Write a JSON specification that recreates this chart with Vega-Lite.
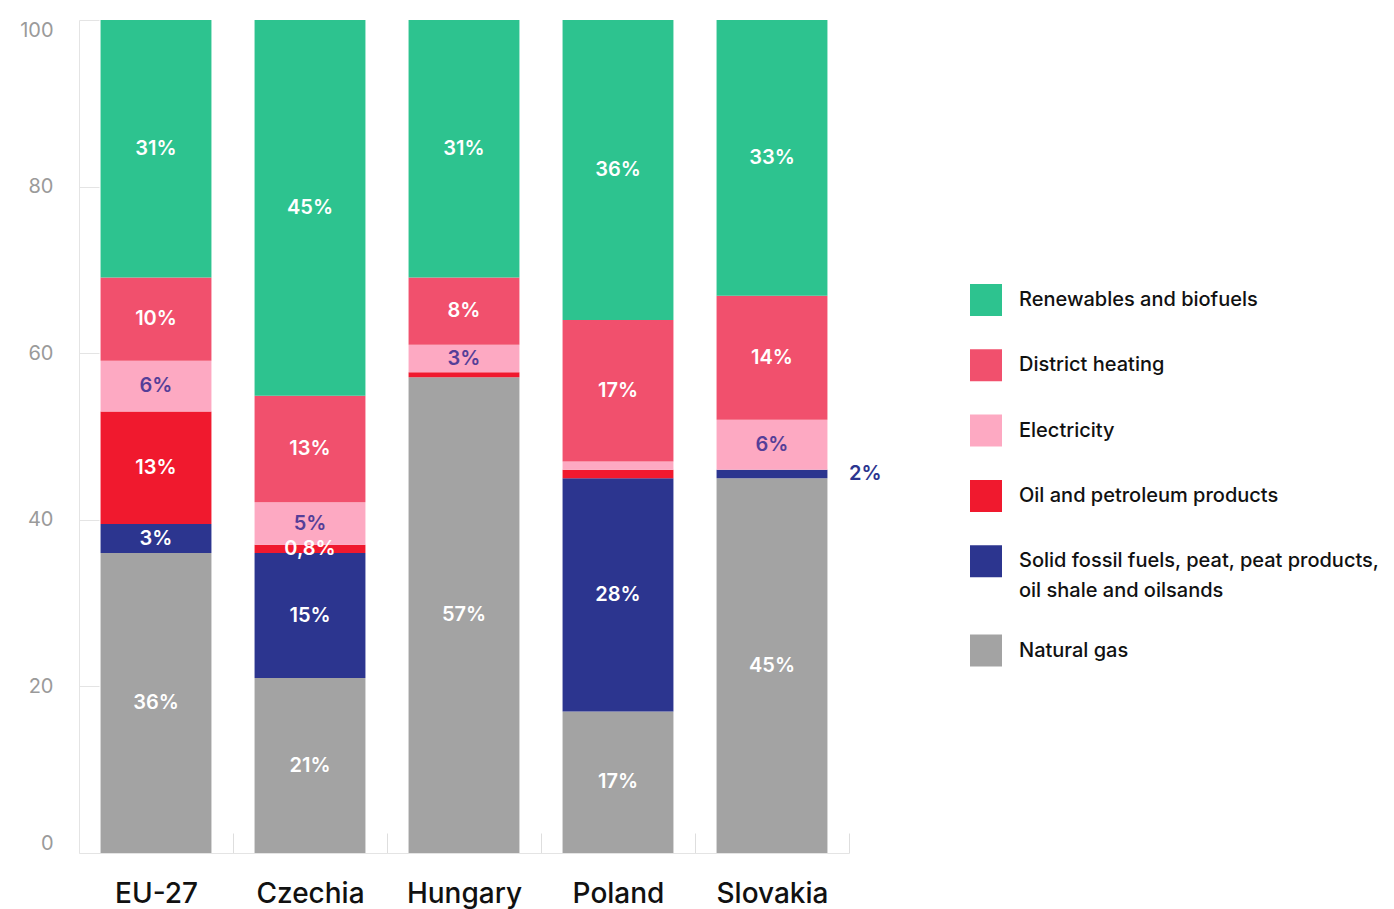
{
  "$schema": "https://vega.github.io/schema/vega-lite/v6.json",
  "width": 770,
  "height": 833,
  "autosize": {"type": "none"},
  "padding": {"left": 79, "top": 20, "right": 545, "bottom": 56},
  "background": "white",
  "config": {
    "view": {"stroke": null},
    "style": {"guide-label": {"lineHeight": 30}}
  },
  "data": {
    "values": [
      {"country": "EU-27", "category": "Natural gas", "value": 36.0, "label": "36%"},
      {"country": "EU-27", "category": "Solid fossil fuels, peat, peat products, oil shale and oilsands", "value": 3.5, "label": "3%"},
      {"country": "EU-27", "category": "Oil and petroleum products", "value": 13.5, "label": "13%"},
      {"country": "EU-27", "category": "Electricity", "value": 6.1, "label": "6%"},
      {"country": "EU-27", "category": "District heating", "value": 10.0, "label": "10%"},
      {"country": "EU-27", "category": "Renewables and biofuels", "value": 30.9, "label": "31%"},
      {"country": "Czechia", "category": "Natural gas", "value": 21.0, "label": "21%"},
      {"country": "Czechia", "category": "Solid fossil fuels, peat, peat products, oil shale and oilsands", "value": 15.0, "label": "15%"},
      {"country": "Czechia", "category": "Oil and petroleum products", "value": 1.0, "label": "0,8%"},
      {"country": "Czechia", "category": "Electricity", "value": 5.1, "label": "5%"},
      {"country": "Czechia", "category": "District heating", "value": 12.8, "label": "13%"},
      {"country": "Czechia", "category": "Renewables and biofuels", "value": 45.1, "label": "45%"},
      {"country": "Hungary", "category": "Natural gas", "value": 57.1, "label": "57%"},
      {"country": "Hungary", "category": "Oil and petroleum products", "value": 0.6, "label": ""},
      {"country": "Hungary", "category": "Electricity", "value": 3.3, "label": "3%"},
      {"country": "Hungary", "category": "District heating", "value": 8.1, "label": "8%"},
      {"country": "Hungary", "category": "Renewables and biofuels", "value": 30.9, "label": "31%"},
      {"country": "Poland", "category": "Natural gas", "value": 17.0, "label": "17%"},
      {"country": "Poland", "category": "Solid fossil fuels, peat, peat products, oil shale and oilsands", "value": 28.0, "label": "28%"},
      {"country": "Poland", "category": "Oil and petroleum products", "value": 1.0, "label": ""},
      {"country": "Poland", "category": "Electricity", "value": 1.0, "label": ""},
      {"country": "Poland", "category": "District heating", "value": 17.0, "label": "17%"},
      {"country": "Poland", "category": "Renewables and biofuels", "value": 36.0, "label": "36%"},
      {"country": "Slovakia", "category": "Natural gas", "value": 45.0, "label": "45%"},
      {"country": "Slovakia", "category": "Solid fossil fuels, peat, peat products, oil shale and oilsands", "value": 1.0, "label": "2%"},
      {"country": "Slovakia", "category": "Electricity", "value": 6.0, "label": "6%"},
      {"country": "Slovakia", "category": "District heating", "value": 14.9, "label": "14%"},
      {"country": "Slovakia", "category": "Renewables and biofuels", "value": 33.1, "label": "33%"}
    ]
  },
  "transform": [
    {"calculate": "indexof(['Natural gas','Solid fossil fuels, peat, peat products, oil shale and oilsands','Oil and petroleum products','Electricity','District heating','Renewables and biofuels'], datum.category)", "as": "rank"},
    {"stack": "value", "groupby": ["country"], "sort": [{"field": "rank", "order": "ascending"}], "as": ["y0", "y1"]},
    {"calculate": "(datum.y0 + datum.y1) / 2", "as": "ymid"}
  ],
  "layer": [
    {
      "mark": {"type": "bar"},
      "encoding": {
        "x": {
          "field": "country", "type": "nominal",
          "sort": ["EU-27", "Czechia", "Hungary", "Poland", "Slovakia"],
          "scale": {"paddingInner": 0.28, "paddingOuter": 0.14},
          "axis": {
            "title": null, "labelAngle": 0, "labelFont": "Inter", "labelFontSize": 28, "labelFontWeight": 500,
            "labelColor": "#111111", "tickOffset": 77, "labelOffset": -77, "tickSize": -20, "tickColor": "#dedede",
            "domainColor": "#e4e4e4", "labelPadding": 47
          }
        },
        "y": {
          "field": "y0", "type": "quantitative",
          "scale": {"domain": [0, 100], "nice": false},
          "axis": {
            "title": null, "values": [0, 20, 40, 60, 80, 100], "grid": false, "tickSize": -20,
            "tickColor": "#e4e4e4", "domainColor": "#e4e4e4", "labelPadding": 46,
            "labelFont": "Inter", "labelFontSize": 20, "labelColor": "#9a9a9a", "labelFlush": true, "labelFlushOffset": 0
          }
        },
        "y2": {"field": "y1"},
        "color": {
          "field": "category", "type": "nominal",
          "scale": {
            "domain": ["Renewables and biofuels", "District heating", "Electricity", "Oil and petroleum products", "Solid fossil fuels, peat, peat products, oil shale and oilsands", "Natural gas"],
            "range": ["#2dc38f", "#f1506d", "#fda9c2", "#f0192e", "#2c358f", "#a3a3a3"]
          },
          "legend": {
            "orient": "none", "legendX": 891, "legendY": 264, "padding": 0, "title": null,
            "symbolType": "square", "symbolSize": 1024, "symbolStrokeWidth": 0,
            "labelFont": "Inter", "labelFontSize": 20, "labelFontWeight": 500, "labelColor": "#111111",
            "labelOffset": 17, "rowPadding": 33.3, "labelLimit": 600,
            "labelExpr": "datum.label == 'Solid fossil fuels, peat, peat products, oil shale and oilsands' ? ['Solid fossil fuels, peat, peat products,', 'oil shale and oilsands'] : datum.label"
          }
        }
      }
    },
    {
      "transform": [{"filter": "datum.label != '' && !(datum.country == 'Slovakia' && datum.rank == 1)"}],
      "mark": {"type": "text", "font": "Inter", "fontSize": 20, "fontWeight": 600, "baseline": "middle"},
      "encoding": {
        "x": {"field": "country", "type": "nominal", "sort": ["EU-27", "Czechia", "Hungary", "Poland", "Slovakia"]},
        "y": {"field": "ymid", "type": "quantitative", "title": null},
        "text": {"field": "label"},
        "color": {"condition": {"test": "datum.category == 'Electricity'", "value": "#553e98"}, "value": "#ffffff"}
      }
    },
    {
      "transform": [{"filter": "datum.country == 'Slovakia' && datum.rank == 1"}],
      "mark": {"type": "text", "font": "Inter", "fontSize": 20, "fontWeight": 600, "baseline": "middle", "align": "left", "dx": 77, "color": "#2c358f"},
      "encoding": {
        "x": {"field": "country", "type": "nominal", "sort": ["EU-27", "Czechia", "Hungary", "Poland", "Slovakia"]},
        "y": {"field": "ymid", "type": "quantitative", "title": null},
        "text": {"field": "label"}
      }
    }
  ]
}
